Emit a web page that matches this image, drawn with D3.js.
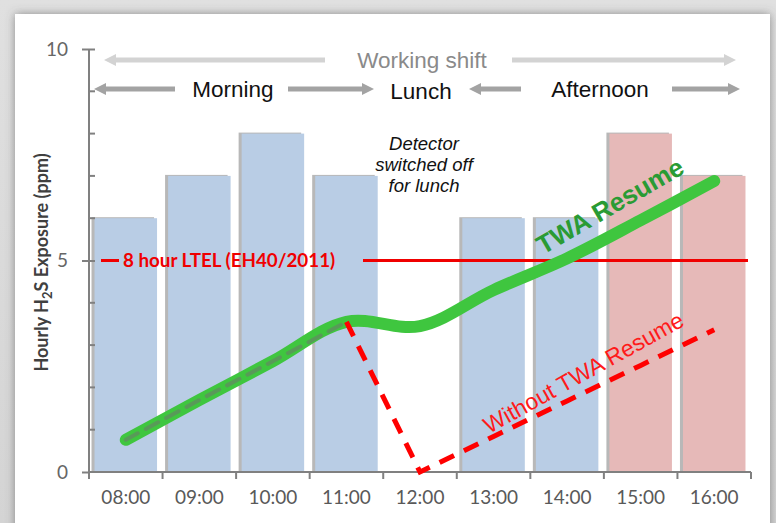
<!DOCTYPE html>
<html>
<head>
<meta charset="utf-8">
<script src="https://cdn.jsdelivr.net/npm/d3@7"></script>
<style>
  html, body { margin: 0; padding: 0; background: #d9d9d9; }
  svg { display: block; }
</style>
</head>
<body>
<div id="chart"></div>
<script>
'use strict';

// data
const hours = ['08:00', '09:00', '10:00', '11:00', '12:00', '13:00', '14:00', '15:00', '16:00'];
const exposure = [6, 7, 8, 7, null, 6, 6, 8, 7];
const overLimit = [false, false, false, false, false, false, false, true, true];
const twaResume = [0.76, 1.7, 2.62, 3.55, 3.45, 4.3, 5.05, 5.95, 6.88];
const withoutResume = [null, null, null, 3.55, 0, 0.84, 1.68, 2.52, 3.36];
const yTicks = [0, 5, 10];
const ltel = 5;

const settings = {
    width: 776,
    height: 523,
    elId: '#chart',
};

const svg = d3.select(settings.elId)
    .append('svg')
    .attr('width', settings.width)
    .attr('height', settings.height);

const defs = svg.append('defs');

// shadow around the white panel
const bgGrad = defs.append('linearGradient')
    .attr('id', 'bg')
    .attr('x1', 0).attr('y1', 0).attr('x2', 0).attr('y2', 1);
bgGrad.append('stop').attr('offset', '0%').attr('stop-color', '#e0e0e0');
bgGrad.append('stop').attr('offset', '100%').attr('stop-color', '#d4d4d4');

const shadow = defs.append('filter')
    .attr('id', 'panelShadow')
    .attr('x', '-5%').attr('y', '-5%').attr('width', '110%').attr('height', '110%');
shadow.append('feDropShadow')
    .attr('dx', 0).attr('dy', 0)
    .attr('stdDeviation', 5)
    .attr('flood-color', '#555')
    .attr('flood-opacity', 0.6);

svg.append('rect')
    .attr('width', settings.width)
    .attr('height', settings.height)
    .attr('fill', 'url(#bg)');

svg.append('rect')
    .attr('x', 15).attr('y', 14)
    .attr('width', 755).attr('height', 520)
    .attr('fill', '#fff')
    .attr('filter', 'url(#panelShadow)');

// scales
const x = d3.scaleBand()
    .domain(hours)
    .range([89, 751])
    .paddingInner(0.15)
    .paddingOuter(0.075);

const y = d3.scaleLinear()
    .domain([0, 10])
    .range([472, 49]);

const cx = d => x(d) + x.bandwidth() / 2;

// bars (with a soft grey shadow on the left)
const barData = hours.map((h, i) => ({ h, v: exposure[i], over: overLimit[i] }))
    .filter(d => d.v !== null);

svg.append('g')
    .selectAll('rect')
    .data(barData)
    .enter()
    .append('rect')
    .attr('x', d => x(d.h) - 3)
    .attr('y', d => y(d.v) - 1)
    .attr('width', x.bandwidth())
    .attr('height', d => y(0) - y(d.v) + 1)
    .attr('fill', '#a6a6a6')
    .attr('opacity', 0.8);

svg.append('g')
    .selectAll('rect')
    .data(barData)
    .enter()
    .append('rect')
    .attr('x', d => x(d.h))
    .attr('y', d => y(d.v))
    .attr('width', x.bandwidth())
    .attr('height', d => y(0) - y(d.v))
    .attr('fill', d => d.over ? '#e6b9b8' : '#b9cde5');

// axes
const axisColor = '#808080';
const yAxis = svg.append('g')
    .attr('transform', `translate(${x.range()[0]},0)`)
    .call(d3.axisLeft(y).tickValues(yTicks).tickSize(7).tickPadding(14));
// minor ticks, inside
yAxis.selectAll('.minor')
    .data(d3.range(1, 10).filter(v => v !== 5))
    .enter()
    .append('line')
    .attr('class', 'minor')
    .attr('x1', 0).attr('x2', 6)
    .attr('y1', d => y(d)).attr('y2', d => y(d))
    .attr('stroke', axisColor)
    .attr('stroke-width', 2);
yAxis.selectAll('.tick line')
    .attr('x1', -7).attr('x2', 6);
yAxis.select('.tick:first-of-type line').attr('x2', 0);
yAxis.select('.domain').attr('d', `M0,${y(0)}V${y(10)}`);
yAxis.selectAll('path, line').attr('stroke', axisColor).attr('stroke-width', 2);
yAxis.selectAll('text')
    .attr('fill', '#666')
    .style('font-family', 'Lato, "Open Sans", sans-serif')
    .style('font-size', '19px');

const xAxis = svg.append('g')
    .attr('transform', `translate(0,${y(0)})`)
    .call(d3.axisBottom(x).tickSize(0).tickPadding(19));
xAxis.select('.domain').attr('d', `M${x.range()[0]},0H${x.range()[1]}`);
xAxis.selectAll('.xt')
    .data(d3.range(hours.length + 1))
    .enter()
    .append('line')
    .attr('class', 'xt')
    .attr('x1', i => x.range()[0] + i * x.step())
    .attr('x2', i => x.range()[0] + i * x.step())
    .attr('y1', 0).attr('y2', 7);
xAxis.selectAll('path, line').attr('stroke', axisColor).attr('stroke-width', 2);
xAxis.selectAll('text')
    .attr('fill', '#595959')
    .style('font-family', 'Lato, "Open Sans", sans-serif')
    .style('font-size', '19px');

// y axis title
const yTitle = svg.append('text')
    .attr('transform', `translate(48,${(y(0) + y(10)) / 2 + 2}) rotate(-90)`)
    .attr('text-anchor', 'middle')
    .attr('fill', '#404040')
    .style('font-family', 'Lato, "Open Sans", sans-serif')
    .style('font-weight', 'bold')
    .style('font-size', '18px');
yTitle.append('tspan').text('Hourly H');
yTitle.append('tspan').text('2').attr('dy', 4).style('font-size', '13px');
yTitle.append('tspan').text('S Exposure (ppm)').attr('dy', -4);

// LTEL line
const ltelColor = '#f00000';
svg.append('line')
    .attr('x1', 101).attr('x2', 119)
    .attr('y1', y(ltel)).attr('y2', y(ltel))
    .attr('stroke', ltelColor).attr('stroke-width', 3);
svg.append('line')
    .attr('x1', 363).attr('x2', 748)
    .attr('y1', y(ltel)).attr('y2', y(ltel))
    .attr('stroke', ltelColor).attr('stroke-width', 3);
svg.append('text')
    .text('8 hour LTEL (EH40/2011)')
    .attr('x', 123)
    .attr('y', y(ltel) + 6.5)
    .attr('fill', ltelColor)
    .style('font-family', 'Lato, "Open Sans", sans-serif')
    .style('font-weight', 'bold')
    .style('font-size', '18.8px');

// TWA resume line
const green = d3.line()
    .x((d, i) => cx(hours[i]))
    .y(d => y(d))
    .curve(d3.curveCatmullRom.alpha(0.5));

svg.append('path')
    .attr('d', green(twaResume))
    .attr('fill', 'none')
    .attr('stroke', '#3fc63f')
    .attr('stroke-width', 12)
    .attr('stroke-linecap', 'round');

// grey dashed overlay along morning part
svg.append('path')
    .attr('d', green(twaResume.slice(0, 4)))
    .attr('fill', 'none')
    .attr('stroke', '#5f8f5f')
    .attr('stroke-opacity', 0.8)
    .attr('stroke-width', 4)
    .attr('stroke-dasharray', '14,9')
    .attr('stroke-linecap', 'round');

// without TWA resume
const redLine = d3.line()
    .defined(d => d.v !== null)
    .x(d => cx(d.h))
    .y(d => y(d.v));

svg.append('path')
    .attr('d', redLine(hours.map((h, i) => ({ h, v: withoutResume[i] }))))
    .attr('fill', 'none')
    .attr('stroke', '#ff0000')
    .attr('stroke-width', 5)
    .attr('stroke-dasharray', '16,11');

// line labels
svg.append('text')
    .text('TWA Resume')
    .attr('transform', 'translate(543,255) rotate(-30)')
    .attr('fill', '#2a9b34')
    .style('font-family', '"Liberation Sans", Arial, sans-serif')
    .style('font-weight', 'bold')
    .style('font-size', '26px');

svg.append('text')
    .text('Without TWA Resume')
    .attr('transform', 'translate(489,434) rotate(-29)')
    .attr('fill', '#ff1a1a')
    .style('font-family', '"Liberation Sans", Arial, sans-serif')
    .style('font-size', '23px');

// detector note
const note = svg.append('text')
    .attr('text-anchor', 'middle')
    .attr('fill', '#111')
    .style('font-family', '"Liberation Sans", Arial, sans-serif')
    .style('font-style', 'italic')
    .style('font-size', '18.5px');
['Detector', 'switched off', 'for lunch'].forEach((t, i) => {
    note.append('tspan')
        .text(t)
        .attr('x', 424)
        .attr('y', 150 + i * 21);
});

// shift arrows
function arrow(x1, x2, yy, color, w) {
    const dir = Math.sign(x2 - x1);
    const head = 12;
    svg.append('line')
        .attr('x1', x1).attr('x2', x2 - dir * head)
        .attr('y1', yy).attr('y2', yy)
        .attr('stroke', color).attr('stroke-width', w);
    svg.append('path')
        .attr('d', `M${x2},${yy}L${x2 - dir * head},${yy - 6}L${x2 - dir * head},${yy + 6}Z`)
        .attr('fill', color);
}

const light = '#d3d3d3';
const mid = '#a3a3a3';
arrow(325, 104, 60, light, 5);
arrow(512, 736, 60, light, 5);
arrow(175, 94, 89, mid, 5);
arrow(288, 374, 89, mid, 5);
arrow(521, 469, 89, mid, 5);
arrow(672, 740, 89, mid, 5);

const topText = (t, xx, yy, color) => svg.append('text')
    .text(t)
    .attr('x', xx).attr('y', yy)
    .attr('text-anchor', 'middle')
    .attr('fill', color)
    .style('font-family', '"Liberation Sans", Arial, sans-serif')
    .style('font-size', '22.5px');

topText('Working shift', 422, 68, '#8a8a8a');
topText('Morning', 233, 97, '#111');
topText('Lunch', 421, 99, '#111');
topText('Afternoon', 600, 97, '#111');
</script>
</body>
</html>
